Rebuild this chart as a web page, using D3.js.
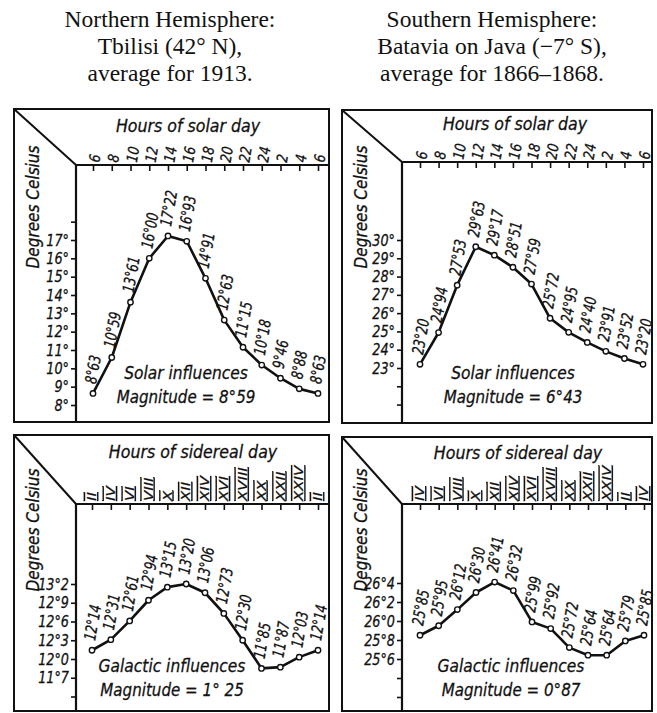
<!DOCTYPE html>
<html><head><meta charset="utf-8">
<script src="https://cdn.jsdelivr.net/npm/d3@7/dist/d3.min.js"></script>
<style>body{margin:0;background:#fff}
.s{font-family:'DejaVu Sans',sans-serif;font-style:italic;stroke:#111;stroke-width:0.3px}
</style>
</head><body>
<svg id="c" width="657" height="713"></svg>
<script>
// ---- data ----
const solarHours = ["6","8","10","12","14","16","18","20","22","24","2","4","6"];
const tbilisiSidereal = ["II","IV","VI","VIII","X","XII","XIV","XVI","XVIII","XX","XXII","XXIV","II"];
const bataviaSidereal = ["IV","VI","VIII","X","XII","XIV","XVI","XVIII","XX","XXII","XXIV","II","IV"];

const tbilisiSolar = [8.63,10.59,13.61,16.00,17.22,16.93,14.91,12.63,11.15,10.18,9.46,8.88,8.63];
const bataviaSolar = [23.20,24.94,27.53,29.63,29.17,28.51,27.59,25.72,24.95,24.40,23.91,23.52,23.20];
const tbilisiGalactic = [12.14,12.31,12.61,12.94,13.15,13.20,13.06,12.73,12.30,11.85,11.87,12.03,12.14];
const bataviaGalactic = [25.85,25.95,26.12,26.30,26.41,26.32,25.99,25.92,25.72,25.64,25.64,25.79,25.85];

const tbilisiSolarTicks = [8,9,10,11,12,13,14,15,16,17,18];
const tbilisiSolarTickLabels = ["8°","9°","10°","11°","12°","13°","14°","15°","16°","17°",""];
const bataviaSolarTicks = [21,22,23,24,25,26,27,28,29,30];
const bataviaSolarTickLabels = ["","","23°","24°","25°","26°","27°","28°","29°","30°"];
const tbilisiGalTicks = [11.4,11.7,12.0,12.3,12.6,12.9,13.2];
const tbilisiGalTickLabels = ["","11°7","12°0","12°3","12°6","12°9","13°2"];
const bataviaGalTicks = [25.2,25.4,25.6,25.8,26.0,26.2,26.4];
const bataviaGalTickLabels = ["","","25°6","25°8","26°0","26°2","26°4"];

const titlesLeft = ["Northern Hemisphere:","Tbilisi (42° N),","average for 1913."];
const titlesRight = ["Southern Hemisphere:","Batavia on Java (\u22127° S),","average for 1866\u20131868."];

// ---- drawing ----
const svg = d3.select("#c");
const INK = "#111";

function fmt(v){ return v.toFixed(2).replace(".", "°"); }
function tf(x,y,rot,sx,sy){ return `translate(${x},${y}) rotate(${rot}) scale(${sx},${sy})`; }

function titles(lines, cx){
  svg.append("g").selectAll("text").data(lines).join("text")
    .attr("x", cx).attr("y", (d,i)=>27+i*27)
    .attr("text-anchor","middle")
    .style("font-family","'Liberation Serif','Times New Roman',serif")
    .style("font-size","23.5px").attr("fill",INK)
    .text(d=>d);
}
titles(titlesLeft, 170);
titles(titlesRight, 492);

function label(g, x, y, rot, sx, sy, size, txt, anchor){
  return g.append("text").attr("class","s")
    .attr("transform", tf(x,y,rot,sx,sy))
    .attr("text-anchor", anchor||"middle")
    .style("font-size", size+"px").attr("fill",INK).text(txt);
}

function panel(o){
  const g = svg.append("g");
  g.append("rect").attr("x",o.x0).attr("y",o.y0)
    .attr("width",o.x1-o.x0).attr("height",o.y1-o.y0)
    .attr("fill","none").attr("stroke",INK).attr("stroke-width",2);
  g.append("line").attr("x1",o.x0).attr("y1",o.y0).attr("x2",o.ix).attr("y2",o.ay)
    .attr("stroke",INK).attr("stroke-width",2);
  g.append("line").attr("x1",o.ix).attr("y1",o.ay).attr("x2",o.x1).attr("y2",o.ay)
    .attr("stroke",INK).attr("stroke-width",2.2);
  g.append("line").attr("x1",o.ix).attr("y1",o.ay).attr("x2",o.ix).attr("y2",o.y1)
    .attr("stroke",INK).attr("stroke-width",2.2);

  const idx = d3.range(o.values.length);
  const x = d3.scalePoint().domain(idx).range([o.px0,o.px1]);
  const y = d3.scaleLinear().domain(o.yDom).range(o.yRange);

  const xa = g.append("g").attr("transform",`translate(0,${o.ay})`)
    .call(d3.axisBottom(x).tickSize(6).tickFormat(""));
  xa.select(".domain").remove();
  xa.selectAll("line").attr("stroke",INK).attr("stroke-width",1.6);

  // x labels above the axis
  g.append("g").selectAll("text").data(o.xLabels).join("text")
    .attr("class","s")
    .attr("transform",(d,i)=>tf(x(i)+o.xlOff, o.ay-o.xlGap, o.xlRot, o.xlSx, o.xlSy))
    .attr("dy","0.35em")
    .style("font-size",o.xlSize+"px")
    .style("text-decoration",o.roman?"underline overline":"none")
    .attr("fill",INK)
    .text(d=>d);

  label(g, o.titleX, o.titleY, 0, 0.93, 1, 17, o.xTitle);

  // y axis
  const ya = g.append("g").attr("transform",`translate(${o.ix},0)`)
    .call(d3.axisLeft(y).tickValues(o.yTicks).tickSize(5).tickPadding(3)
      .tickFormat((d,i)=>o.yTickLabels[i]));
  ya.select(".domain").remove();
  ya.attr("font-family",null).attr("font-size",null);
  ya.selectAll("line").attr("stroke",INK).attr("stroke-width",1.6);
  ya.selectAll("text").attr("class","s").attr("x",null)
    .attr("transform","translate(-7,0) scale(0.8,1)")
    .style("font-size","16px").attr("fill",INK);

  label(g, o.x0+25, o.celsiusY, -90, 0.9, 1, 17, "Degrees Celsius");

  // series
  g.append("path").datum(o.values)
    .attr("d", d3.line().x((d,i)=>x(i)).y(d=>y(d)))
    .attr("fill","none").attr("stroke",INK).attr("stroke-width",2.6)
    .attr("stroke-linejoin","round");
  g.append("g").selectAll("circle").data(o.values).join("circle")
    .attr("cx",(d,i)=>x(i)).attr("cy",d=>y(d)).attr("r",2.7)
    .attr("fill","#fff").attr("stroke",INK).attr("stroke-width",1.4);

  g.append("g").selectAll("text").data(o.values).join("text")
    .attr("class","s")
    .attr("transform",(d,i)=>tf(x(i)+3, y(d)-9, -80, 0.74, 1))
    .style("font-size","16px")
    .attr("fill",INK).text(d=>fmt(d));

  label(g, o.capX, o.cap1Y, 0, 0.86, 1, 18, o.cap1);
  label(g, o.capX, o.cap1Y+24, 0, 0.84, 1, 18, o.cap2);
}

panel({x0:14,y0:109,x1:329,y1:422,ix:76,ay:165,px0:93,px1:318,
  values:tbilisiSolar,yDom:[8,17],yRange:[405,240],
  yTicks:tbilisiSolarTicks,yTickLabels:tbilisiSolarTickLabels,
  xLabels:solarHours,xlRot:-80,xlOff:1,xlGap:3,xlSize:15,xlSx:0.82,xlSy:1,roman:false,
  xTitle:"Hours of solar day",titleX:188,titleY:132,celsiusY:207,
  capX:186,cap1Y:379,cap1:"Solar influences",cap2:"Magnitude = 8°59"});

panel({x0:342,y0:110,x1:652,y1:423,ix:402,ay:162,px0:420,px1:643,
  values:bataviaSolar,yDom:[23,30],yRange:[368,240],
  yTicks:bataviaSolarTicks,yTickLabels:bataviaSolarTickLabels,
  xLabels:solarHours,xlRot:-80,xlOff:1,xlGap:3,xlSize:15,xlSx:0.82,xlSy:1,roman:false,
  xTitle:"Hours of solar day",titleX:515,titleY:130,celsiusY:207,
  capX:513,cap1Y:379,cap1:"Solar influences",cap2:"Magnitude = 6°43"});

panel({x0:14,y0:435,x1:329,y1:711,ix:76,ay:504,px0:92,px1:318,
  values:tbilisiGalactic,yDom:[12.0,13.2],yRange:[659,584],
  yTicks:tbilisiGalTicks,yTickLabels:tbilisiGalTickLabels,
  xLabels:tbilisiSidereal,xlRot:-90,xlOff:0,xlGap:3,xlSize:15,xlSx:1,xlSy:0.8,roman:true,
  xTitle:"Hours of sidereal day",titleX:193,titleY:458,celsiusY:530,
  capX:172,cap1Y:672,cap1:"Galactic influences",cap2:"Magnitude = 1° 25"});

panel({x0:342,y0:437,x1:652,y1:711,ix:402,ay:504,px0:420,px1:644,
  values:bataviaGalactic,yDom:[25.6,26.4],yRange:[659,583],
  yTicks:bataviaGalTicks,yTickLabels:bataviaGalTickLabels,
  xLabels:bataviaSidereal,xlRot:-90,xlOff:0,xlGap:3,xlSize:15,xlSx:1,xlSy:0.8,roman:true,
  xTitle:"Hours of sidereal day",titleX:518,titleY:459,celsiusY:530,
  capX:511,cap1Y:672,cap1:"Galactic influences",cap2:"Magnitude = 0°87"});
</script>
</body></html>
